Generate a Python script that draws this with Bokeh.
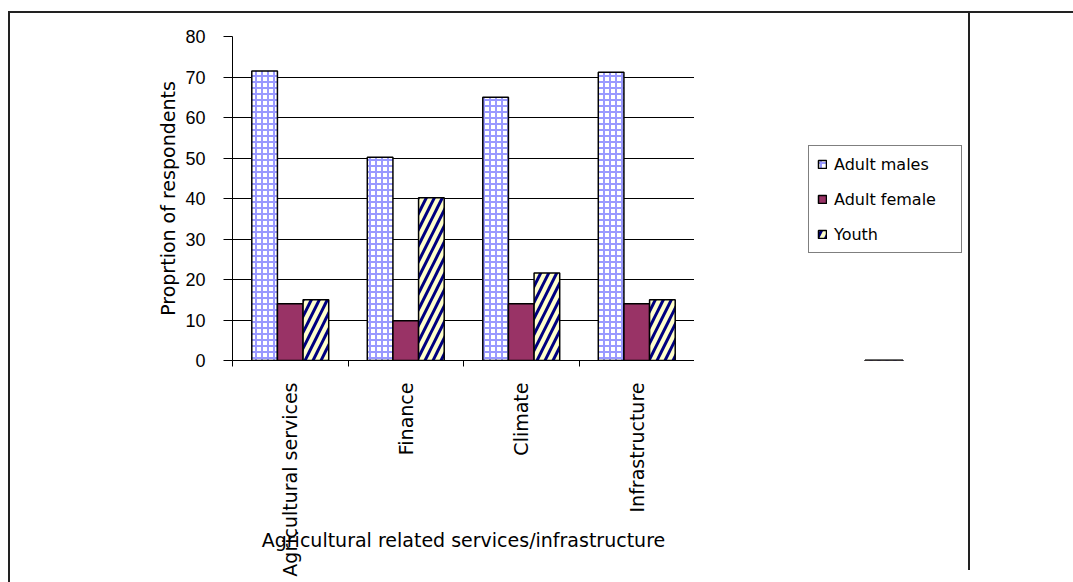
import math
import numpy as np
from bokeh.plotting import figure
from bokeh.layouts import row
from bokeh.models import (ColumnDataSource, Range1d, FixedTicker, CustomJSTickFormatter,
                          InlineStyleSheet)
from bokeh.embed import file_html
from bokeh.resources import INLINE

# ---- data ----
categories = ["Agricultural services", "Finance", "Climate", "Infrastructure"]
adult_males = [71.5, 50.2, 65.0, 71.2]
adult_female = [14.0, 9.8, 14.0, 14.0]
youth = [15.0, 40.2, 21.6, 15.0]
series_names = ["Adult males", "Adult female", "Youth"]
y_ticks = [0, 10, 20, 30, 40, 50, 60, 70, 80]
x_title = "Agricultural related services/infrastructure"
y_title = "Proprtion of respondents"

# ---- layout constants ----
W, H = 1073, 582
W1 = 694
LEFT, TOP, BOTTOM = 232, 36, 222

n = len(categories)
centers = np.arange(n) + 0.5
bw = 0.222

src = ColumnDataSource(dict(
    xm=centers - bw, xf=centers, xy=centers + bw,
    males=adult_males, female=adult_female, youth=youth))

styles = [
    dict(fill_color="white", hatch_pattern="cross", hatch_color="#9999ff",
         hatch_weight=2, hatch_scale=6, line_color="black", line_width=1.5),
    dict(fill_color="#993366", line_color="black", line_width=1.5),
    dict(fill_color="#ffffcc", hatch_pattern="right_diagonal_line", hatch_color="#000080",
         hatch_weight=3, hatch_scale=16, line_color="black", line_width=1.5),
]

p = figure(width=W1, height=H, x_range=Range1d(0, n), y_range=Range1d(0, 80),
           output_backend="svg", toolbar_location=None,
           min_border_left=LEFT, min_border_right=0, min_border_top=TOP,
           min_border_bottom=BOTTOM,
           background_fill_color="white", border_fill_color="white")
p.outline_line_color = None
p.xgrid.visible = False
p.ygrid.ticker = FixedTicker(ticks=y_ticks)
p.ygrid.grid_line_color = "black"
p.ygrid.grid_line_width = 1

for col, xcol, st in zip(["males", "female", "youth"], ["xm", "xf", "xy"], styles):
    p.vbar(x=xcol, top=col, width=bw, source=src, **st)

# y axis
ya = p.yaxis[0]
ya.ticker = FixedTicker(ticks=y_ticks)
ya.axis_label = y_title
ya.axis_label_text_font = "DejaVu Sans"
ya.axis_label_text_font_size = "19px"
ya.axis_label_text_font_style = "normal"
ya.axis_label_text_color = "black"
ya.axis_label_standoff = 3
ya.major_label_text_font = "Liberation Sans"
ya.major_label_text_font_size = "18px"
ya.major_label_text_color = "black"
ya.major_label_standoff = 18
ya.major_tick_out = 9
ya.major_tick_in = 0
ya.minor_tick_line_color = None
ya.axis_line_color = "black"
ya.major_tick_line_color = "black"

# x axis: labels at centres, ticks at boundaries
xa = p.xaxis[0]
xa.ticker = FixedTicker(ticks=list(centers), minor_ticks=list(range(n + 1)))
xa.formatter = CustomJSTickFormatter(args=dict(labels=categories),
                                     code="return labels[Math.floor(tick)];")
xa.major_label_orientation = math.pi / 2
xa.major_label_text_font = "DejaVu Sans"
xa.major_label_text_font_size = "19px"
xa.major_label_text_color = "black"
xa.major_label_standoff = 16
xa.major_tick_out = 0
xa.major_tick_in = 0
xa.minor_tick_out = 6
xa.minor_tick_in = 0
xa.minor_tick_line_color = "black"
xa.axis_line_color = "black"
xa.axis_label = x_title
xa.axis_label_text_font = "DejaVu Sans"
xa.axis_label_text_font_size = "19px"
xa.axis_label_text_font_style = "normal"
xa.axis_label_text_color = "black"
xa.axis_label_standoff = -51

# ---- legend panel (second figure to the right; its frame aligns with the first) ----
# its y range lies above all values, so the proxy bars stay out of view
p2 = figure(width=W - W1, height=H, x_range=Range1d(0, 1), y_range=Range1d(81, 82),
            output_backend="svg", toolbar_location=None,
            x_axis_location=None, y_axis_location=None, min_border=0,
            background_fill_color="white", border_fill_color="white")
p2.outline_line_color = None
p2.grid.visible = False
for name, vals, st in zip(series_names, [adult_males, adult_female, youth], styles):
    p2.vbar(x=[0.5], top=[vals[0]], width=0.1, legend_label=name, **st)

lg = p2.legend[0]
lg.location = (114, 107)
lg.border_line_color = "black"
lg.border_line_width = 1
lg.background_fill_color = "white"
lg.background_fill_alpha = 1
lg.padding = 8
lg.spacing = 15
lg.label_height = 20
lg.glyph_width = 10
lg.glyph_height = 10
lg.label_standoff = 7
lg.label_width = 119
lg.label_text_font = "DejaVu Sans"
lg.label_text_font_size = "16px"
lg.label_text_color = "black"
lg.margin = 0

layout = row(p, p2, spacing=0)
layout.stylesheets = [InlineStyleSheet(css="""
:host { position: relative; }
:host::before { content: ""; position: absolute; left: 8px; top: 11px; width: 1070px; height: 600px;
  border-left: 2px solid #222; border-top: 2px solid #222; pointer-events: none; z-index: 10; }
:host::after { content: ""; position: absolute; left: 968px; top: 11px; width: 0; height: 559px;
  border-left: 2px solid #222; pointer-events: none; z-index: 10; }
""")]

open("out.html", "w").write(file_html(layout, INLINE))
